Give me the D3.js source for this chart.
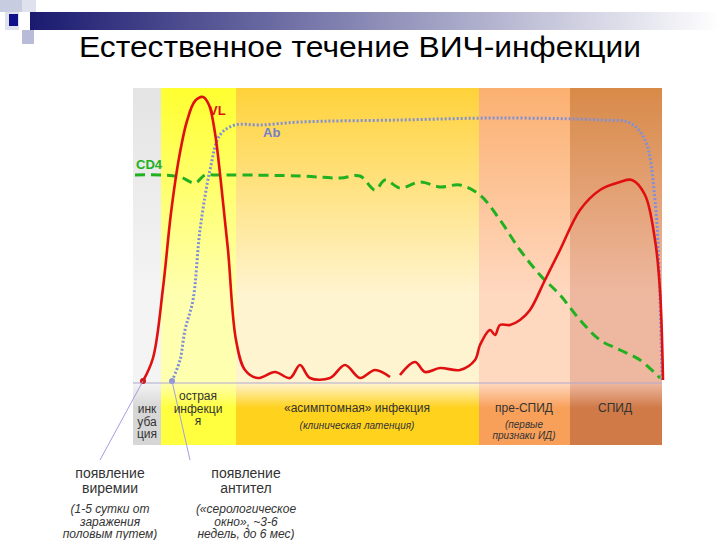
<!DOCTYPE html>
<html><head><meta charset="utf-8">
<script src="https://cdn.jsdelivr.net/npm/d3@7"></script>
<style>body{margin:0;background:#fff}text{font-family:"Liberation Sans",Arial,sans-serif}</style>
</head><body><script>
const width = 720, height = 540

// phases (time units), colours
const phases = [
  {name: 'inc', from: 0, to: 28, top: '#e4e4e4', mid: '#f4f4f4', low: '#d6d6d6'},
  {name: 'acute', from: 28, to: 103, top: '#ffff30', mid: '#ffffb0', low: '#ffff40'},
  {name: 'asym', from: 103, to: 346, top: '#ffd23a', mid: '#fff4d0', low: '#ffd21e'},
  {name: 'pre', from: 346, to: 437, top: '#fbb070', mid: '#ffd8c0', low: '#f8a05a'},
  {name: 'aids', from: 437, to: 529, top: '#d88a48', mid: '#eeb8a0', low: '#d07a48'}
]
// series (x = time, y = level)
const vlX = [10,20,30,38,46,54,62,70,76,82,88,95,103,112,125,142,157,167,177,197,212,227,242,257]
const vlY = [2,25,95,170,225,262,282,286,278,250,200,133,43,13,5,11,5,18,5,5,18,5,13,6]
const vl2X = [267,282,292,307,327,342,347,357,362,367,377,387,397,412,427,447,467,487,499,512,522,527,530]
const vl2Y = [8,21,11,15,13,23,38,53,48,58,58,63,73,103,133,173,193,201,203,188,143,93,3]
const abX = [39,47,52,60,67,77,87,102,127,167,267,367,467,497,512,522,527,529]
const abY = [2,23,53,83,153,213,248,258,258,261,263,265,263,260,243,183,83,3]
const cd4X = [2,27,47,62,72,82,107,167,207,227,242,252,267,287,307,327,347,367,387,407,427,447,467,487,507,527]
const cd4Y = [208,208,206,200,208,208,208,207,205,207,193,203,195,201,196,198,188,163,133,108,88,63,43,33,23,5]

const svg = d3.select('body').append('svg').attr('width', width).attr('height', height)
const defs = svg.append('defs')

// header decoration
const hg = defs.append('linearGradient').attr('id', 'hg')
hg.append('stop').attr('offset', '0%').attr('stop-color', '#1a1a70')
hg.append('stop').attr('offset', '100%').attr('stop-color', '#ffffff')
svg.append('rect').attr('x', 30).attr('y', 12).attr('width', 690).attr('height', 18).attr('fill', 'url(#hg)')
svg.append('rect').attr('x', 0).attr('y', 0).attr('width', 22).attr('height', 12).attr('fill', '#c8cce0')
svg.append('rect').attr('x', 22).attr('y', 0).attr('width', 14).attr('height', 12).attr('fill', '#dfe2ee')
svg.append('rect').attr('x', 22).attr('y', 30).attr('width', 12).attr('height', 14).attr('fill', '#b8bcd8')
svg.append('rect').attr('x', 5).attr('y', 12).attr('width', 14).attr('height', 18).attr('fill', '#dfe2ee')
svg.append('rect').attr('x', 9).attr('y', 14).attr('width', 9).attr('height', 12).attr('fill', '#10108a')

svg.append('text').attr('x', 360).attr('y', 57).attr('text-anchor', 'middle')
  .attr('font-size', 30).attr('textLength', 562).attr('lengthAdjust', 'spacingAndGlyphs')
  .text('Естественное течение ВИЧ-инфекции')

const x = d3.scaleLinear().domain([0, 529]).range([133, 662])
const y = d3.scaleLinear().domain([0, 295]).range([383, 88])

phases.forEach((p, i) => {
  const g = defs.append('linearGradient').attr('id', 'pg' + i).attr('x1', 0).attr('x2', 0).attr('y1', 0).attr('y2', 1)
  g.append('stop').attr('offset', '0%').attr('stop-color', p.top)
  g.append('stop').attr('offset', '70%').attr('stop-color', p.mid)
  g.append('stop').attr('offset', '100%').attr('stop-color', p.mid)
  const g2 = defs.append('linearGradient').attr('id', 'lg' + i).attr('x1', 0).attr('x2', 0).attr('y1', 0).attr('y2', 1)
  g2.append('stop').attr('offset', '0%').attr('stop-color', p.mid)
  g2.append('stop').attr('offset', '40%').attr('stop-color', p.low)
  g2.append('stop').attr('offset', '100%').attr('stop-color', p.low)
})
svg.selectAll('rect.band').data(phases).join('rect').attr('class', 'band')
  .attr('x', d => x(d.from)).attr('width', d => x(d.to) - x(d.from))
  .attr('y', y(295)).attr('height', y(0) - y(295)).attr('fill', (d, i) => `url(#pg${i})`)
svg.selectAll('rect.lab').data(phases).join('rect').attr('class', 'lab')
  .attr('x', d => x(d.from)).attr('width', d => x(d.to) - x(d.from))
  .attr('y', y(0)).attr('height', 62).attr('fill', (d, i) => `url(#lg${i})`)
svg.append('line').attr('x1', x(0)).attr('x2', x(529)).attr('y1', y(0)).attr('y2', y(0)).attr('stroke', '#b0a8d0')

const line = d3.line().x(d => x(d[0])).y(d => y(d[1])).curve(d3.curveCatmullRom)
const zip = (a, b) => a.map((v, i) => [v, b[i]])

svg.append('path').attr('d', line(zip(cd4X, cd4Y))).attr('fill', 'none')
  .attr('stroke', '#20b020').attr('stroke-width', 3).attr('stroke-dasharray', '10,6')
svg.append('path').attr('d', line(zip(abX, abY))).attr('fill', 'none')
  .attr('stroke', '#8090d8').attr('stroke-width', 3).attr('stroke-dasharray', '2,2')
svg.append('path').attr('d', line(zip(vlX, vlY))).attr('fill', 'none')
  .attr('stroke', '#e01010').attr('stroke-width', 2.6)
svg.append('path').attr('d', line(zip(vl2X, vl2Y))).attr('fill', 'none')
  .attr('stroke', '#e01010').attr('stroke-width', 2.6)

svg.append('text').attr('x', x(76)).attr('y', y(268)).attr('fill', '#e01010').attr('font-weight', 'bold').attr('font-size', 13).text('VL')
svg.append('text').attr('x', x(130)).attr('y', y(246)).attr('fill', '#7080d0').attr('font-weight', 'bold').attr('font-size', 13).text('Ab')
svg.append('text').attr('x', x(3)).attr('y', y(214)).attr('fill', '#20b020').attr('font-weight', 'bold').attr('font-size', 13).text('CD4')

// markers and pointer lines
svg.append('circle').attr('cx', x(10)).attr('cy', y(2)).attr('r', 3).attr('fill', '#d01818')
svg.append('circle').attr('cx', x(39)).attr('cy', y(2)).attr('r', 3).attr('fill', '#9098d8')
svg.append('line').attr('x1', x(10)).attr('y1', y(2)).attr('x2', 100).attr('y2', 460).attr('stroke', '#a0a0e0')
svg.append('line').attr('x1', x(39)).attr('y1', y(2)).attr('x2', 190).attr('y2', 460).attr('stroke', '#a0a0e0')

const labs = [
  [147, 413, ['инк', 'уба', 'ция'], 12, 'normal'],
  [198, 400, ['острая', 'инфекци', 'я'], 12, 'normal'],
  [357, 412, ['«асимптомная» инфекция'], 12, 'normal'],
  [357, 429, ['(клиническая латенция)'], 10, 'italic'],
  [524, 412, ['пре-СПИД'], 12, 'normal'],
  [524, 428, ['(первые', 'признаки ИД)'], 10, 'italic'],
  [615, 412, ['СПИД'], 12, 'normal'],
  [110, 478, ['появление', 'виремии'], 14, 'normal'],
  [246, 478, ['появление', 'антител'], 14, 'normal'],
  [110, 513, ['(1-5 сутки от', 'заражения', 'половым путем)'], 12, 'italic'],
  [246, 513, ['(«серологическое', 'окно», ~3-6', 'недель, до 6 мес)'], 12, 'italic']
]
labs.forEach(([cx, cy, lines, fs, st]) => {
  const t = svg.append('text').attr('x', cx).attr('y', cy).attr('text-anchor', 'middle')
    .attr('font-size', fs).attr('font-style', st).attr('fill', '#333')
  lines.forEach((l, i) => t.append('tspan').attr('x', cx).attr('dy', i ? fs * 1.05 : 0).text(l))
})
</script></body></html>
